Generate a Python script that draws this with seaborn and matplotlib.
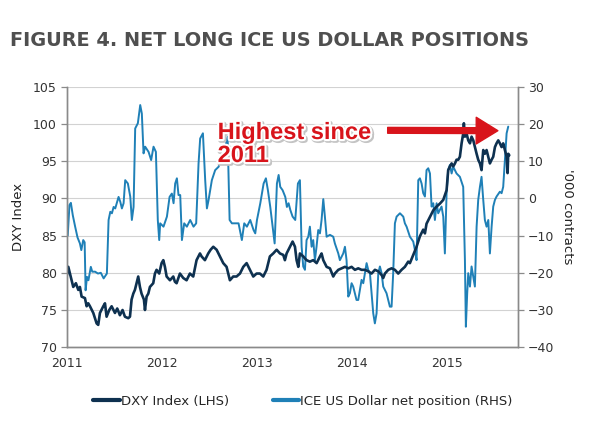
import matplotlib
matplotlib.use("Agg")
import matplotlib.pyplot as plt
import matplotlib.patheffects as pe
import seaborn as sns

# DXY index (left axis), decimal year / value
dxy_t = [2011.0, 2011.018, 2011.035, 2011.053, 2011.07, 2011.098, 2011.123, 2011.14, 2011.158, 2011.193,
         2011.211, 2011.228, 2011.246, 2011.281, 2011.316, 2011.333, 2011.351, 2011.386, 2011.404, 2011.421,
         2011.449, 2011.474, 2011.509, 2011.533, 2011.561, 2011.589, 2011.614, 2011.649, 2011.667, 2011.684,
         2011.702, 2011.719, 2011.737, 2011.754, 2011.772, 2011.789, 2011.814, 2011.825, 2011.842, 2011.86,
         2011.877, 2011.912, 2011.93, 2011.947, 2011.975, 2012.0, 2012.018, 2012.035, 2012.053, 2012.088,
         2012.123, 2012.14, 2012.158, 2012.193, 2012.228, 2012.263, 2012.298, 2012.333, 2012.368, 2012.404,
         2012.421, 2012.456, 2012.491, 2012.516, 2012.544, 2012.579, 2012.614, 2012.649, 2012.684, 2012.719,
         2012.754, 2012.789, 2012.825, 2012.86, 2012.895, 2012.93, 2012.965, 2013.0, 2013.035, 2013.07,
         2013.105, 2013.14, 2013.175, 2013.211, 2013.246, 2013.281, 2013.298, 2013.316, 2013.351, 2013.379,
         2013.404, 2013.421, 2013.439, 2013.456, 2013.491, 2013.526, 2013.561, 2013.596, 2013.632, 2013.667,
         2013.684, 2013.702, 2013.737, 2013.772, 2013.807, 2013.824, 2013.86, 2013.895, 2013.93, 2013.965,
         2014.0, 2014.035, 2014.07, 2014.105, 2014.14, 2014.175, 2014.21, 2014.246, 2014.281, 2014.316,
         2014.333, 2014.351, 2014.386, 2014.421, 2014.456, 2014.491, 2014.526, 2014.561, 2014.596, 2014.614,
         2014.649, 2014.684, 2014.719, 2014.754, 2014.772, 2014.789, 2014.825, 2014.86, 2014.895, 2014.93,
         2014.965, 2015.0, 2015.017, 2015.035, 2015.053, 2015.07, 2015.088, 2015.105, 2015.123, 2015.14,
         2015.158, 2015.175, 2015.182, 2015.193, 2015.211, 2015.228, 2015.246, 2015.263, 2015.281, 2015.298,
         2015.316, 2015.333, 2015.351, 2015.368, 2015.386, 2015.403, 2015.421, 2015.439, 2015.456, 2015.474,
         2015.491, 2015.509, 2015.526, 2015.544, 2015.561, 2015.579, 2015.596, 2015.614, 2015.632, 2015.642,
         2015.649, 2015.66]
dxy_v = [79.5, 80.8, 79.9, 79.0, 78.1, 78.6, 77.7, 78.1, 76.8, 76.6,
         75.5, 75.9, 75.5, 74.6, 73.2, 73.0, 74.6, 75.5, 75.9, 74.1,
         75.0, 75.5, 74.6, 75.2, 74.3, 75.0, 74.1, 73.9, 74.1, 76.4,
         77.2, 77.7, 78.6, 79.5, 78.1, 77.2, 76.4, 75.0, 76.8, 77.2,
         78.1, 78.6, 79.9, 80.4, 79.9, 81.3, 81.7, 80.8, 79.5, 79.0,
         79.5, 78.8, 78.6, 79.9, 79.3, 79.0, 79.9, 79.5, 81.7, 82.6,
         82.2, 81.7, 82.6, 83.1, 83.5, 83.1, 82.2, 81.3, 80.8, 79.0,
         79.5, 79.5, 79.9, 80.8, 81.3, 80.4, 79.5, 79.9, 79.9, 79.5,
         80.4, 82.2, 82.6, 83.1, 82.6, 82.4, 81.7, 82.6, 83.5, 84.2,
         83.5, 81.7, 80.8, 82.6, 82.2, 81.7, 81.5, 81.7, 81.3, 82.2,
         82.6, 81.7, 80.8, 80.6, 79.5, 79.9, 80.4, 80.6, 80.8, 80.6,
         80.8, 80.4, 80.6, 80.4, 80.4, 80.2, 79.9, 80.4, 80.2, 79.7,
         79.3, 79.9, 80.4, 80.6, 80.4, 79.9, 80.4, 80.8, 81.5, 81.3,
         82.4, 83.5, 84.9, 85.8, 85.3, 86.6, 87.5, 88.4, 88.9, 89.3,
         89.8, 91.1, 93.8, 94.3, 94.7, 94.3, 94.7, 95.2, 95.2, 95.6,
         97.4, 98.7, 100.1, 98.3, 98.7, 97.8, 97.4, 98.3, 97.8, 96.9,
         96.0, 95.2, 94.7, 93.8, 96.5, 96.0, 96.5, 95.6, 94.7, 95.2,
         95.6, 96.9, 97.4, 97.8, 97.4, 96.9, 97.4, 96.5, 95.6, 93.4,
         96.0, 95.8]

# ICE US Dollar net position ('000 contracts, right axis)
ice_t = [2011.0, 2011.012, 2011.03, 2011.045, 2011.065, 2011.09, 2011.115, 2011.14, 2011.155, 2011.175,
         2011.19, 2011.2, 2011.215, 2011.23, 2011.255, 2011.27, 2011.3, 2011.33, 2011.36, 2011.39,
         2011.424, 2011.442, 2011.46, 2011.477, 2011.495, 2011.512, 2011.547, 2011.565, 2011.582, 2011.6,
         2011.617, 2011.645, 2011.67, 2011.687, 2011.705, 2011.722, 2011.75, 2011.775, 2011.792, 2011.81,
         2011.827, 2011.863, 2011.89, 2011.915, 2011.94, 2011.96, 2011.975, 2011.985, 2012.02, 2012.056,
         2012.084, 2012.108, 2012.126, 2012.143, 2012.161, 2012.178, 2012.196, 2012.214, 2012.238, 2012.266,
         2012.301, 2012.336, 2012.364, 2012.389, 2012.406, 2012.435, 2012.459, 2012.477, 2012.494, 2012.529,
         2012.564, 2012.6, 2012.635, 2012.67, 2012.695, 2012.716, 2012.74, 2012.775, 2012.81, 2012.845,
         2012.87, 2012.898, 2012.933, 2012.968, 2012.986, 2013.004, 2013.039, 2013.074, 2013.098, 2013.119,
         2013.144, 2013.169, 2013.19, 2013.214, 2013.232, 2013.249, 2013.274, 2013.302, 2013.319, 2013.337,
         2013.355, 2013.379, 2013.407, 2013.435, 2013.456, 2013.474, 2013.491, 2013.509, 2013.526, 2013.544,
         2013.561, 2013.579, 2013.596, 2013.614, 2013.631, 2013.649, 2013.667, 2013.684, 2013.702, 2013.719,
         2013.737, 2013.772, 2013.807, 2013.824, 2013.86, 2013.877, 2013.912, 2013.93, 2013.947, 2013.965,
         2013.982, 2014.0, 2014.017, 2014.052, 2014.07, 2014.088, 2014.105, 2014.123, 2014.14, 2014.158,
         2014.175, 2014.193, 2014.21, 2014.228, 2014.245, 2014.263, 2014.281, 2014.298, 2014.316, 2014.333,
         2014.368, 2014.386, 2014.403, 2014.421, 2014.438, 2014.456, 2014.474, 2014.509, 2014.544, 2014.561,
         2014.579, 2014.614, 2014.649, 2014.667, 2014.684, 2014.702, 2014.719, 2014.737, 2014.754, 2014.772,
         2014.789, 2014.807, 2014.825, 2014.842, 2014.86, 2014.877, 2014.895, 2014.912, 2014.947, 2014.965,
         2014.982, 2015.0, 2015.017, 2015.035, 2015.053, 2015.07, 2015.105, 2015.14, 2015.175, 2015.193,
         2015.203, 2015.217, 2015.228, 2015.246, 2015.263, 2015.281, 2015.298, 2015.316, 2015.333, 2015.351,
         2015.368, 2015.386, 2015.403, 2015.421, 2015.439, 2015.456, 2015.474, 2015.491, 2015.509, 2015.526,
         2015.561, 2015.579, 2015.596, 2015.614, 2015.632, 2015.649]
ice_v = [-1.5, -10.0, -1.8, -1.2, -4.5, -7.6, -10.5, -12.1, -13.9, -11.2,
         -11.8, -24.7, -21.1, -22.0, -18.4, -19.7, -19.7, -20.2, -20.0, -21.5,
         -20.2, -5.8, -3.6, -4.0, -2.3, -2.7, 0.4, -0.9, -2.7, -1.3,
         4.9, 4.0, 0.5, -5.8, -2.3, 18.8, 20.2, 25.1, 22.8, 12.1,
         13.9, 12.5, 10.3, 13.9, 12.5, -5.8, -11.2, -6.7, -7.6, -4.9,
         0.4, 1.3, -1.3, 4.0, 5.4, 0.9, 0.9, -11.2, -6.7, -7.6,
         -5.8, -7.6, -6.7, 9.4, 16.1, 17.5, 4.9, -2.7, -0.5, 4.9,
         7.6, 8.5, 11.2, 13.9, 16.6, -5.8, -6.7, -6.7, -6.7, -11.2,
         -6.7, -7.6, -5.8, -8.5, -9.4, -5.8, -1.3, 4.0, 5.4, 2.2,
         -2.3, -7.6, -12.1, 4.0, 6.3, 3.1, 2.2, 0.4, -2.3, -1.3,
         -3.1, -4.9, -5.8, 4.0, 4.9, -13.0, -18.3, -19.2, -11.2, -10.3,
         -7.6, -13.0, -11.2, -16.6, -13.0, -8.5, -9.4, -5.8, -0.2, -4.9,
         -10.3, -9.8, -10.3, -12.1, -14.8, -16.6, -14.8, -13.0, -16.6, -26.4,
         -25.5, -22.8, -23.7, -27.3, -27.3, -24.6, -21.9, -22.8, -20.1, -17.4,
         -19.2, -20.1, -25.5, -30.9, -33.6, -30.9, -20.1, -18.3, -20.1, -23.7,
         -25.5, -27.3, -29.1, -29.1, -20.1, -6.7, -4.9, -4.0, -4.9, -6.7,
         -7.6, -10.3, -11.6, -13.9, -16.6, 4.9, 5.4, 4.0, 1.4, 0.5,
         7.6, 8.1, 6.7, -2.2, -1.3, -5.8, -1.3, -4.0, -2.2, -4.9,
         -14.8, 1.4, 7.6, 9.0, 6.7, 8.5, 6.7, 5.8, 3.1, -16.6,
         -34.5, -25.5, -20.1, -23.7, -18.3, -21.0, -23.7, -7.6, -0.4, 3.1,
         5.8, -0.4, -5.8, -7.6, -5.8, -14.8, -7.6, -2.2, -0.4, 0.5,
         1.8, 1.4, 3.1, 10.3, 17.5, 19.3]

year_ticks = [2011, 2012, 2013, 2014, 2015]
dxy_ticks = [70, 75, 80, 85, 90, 95, 100, 105]
ice_ticks = [-40, -30, -20, -10, 0, 10, 20, 30]

dxy_color = "#0e3150"
ice_color = "#1f80b7"
red = "#d8141b"
axis_gray = "#8a8a8a"
text_gray = "#333333"

sns.set_theme(style="white")
plt.rcParams["font.family"] = ["DejaVu Sans"]

fig = plt.figure(figsize=(6, 4.34), dpi=100)
ax = fig.add_axes([0.111, 0.2, 0.753, 0.6])
ax2 = ax.twinx()

sns.lineplot(x=ice_t, y=ice_v, ax=ax2, color=ice_color, linewidth=1.4,
             estimator=None, label="ICE US Dollar net position (RHS)", legend=False)
sns.lineplot(x=dxy_t, y=dxy_v, ax=ax, color=dxy_color, linewidth=1.9,
             estimator=None, label="DXY Index (LHS)", legend=False)

# DXY on top, grid lives on the back axis
ax.set_zorder(2)
ax2.set_zorder(1)
ax.patch.set_visible(False)
ax2.set_axisbelow(True)
ax2.yaxis.grid(True, color="#d2d2d2", linewidth=0.8)
ax.grid(False)
ax2.xaxis.grid(False)

ax.set_xlim(2011.0, 2015.756)
ax.set_ylim(70, 105)
ax2.set_ylim(-40, 30)
ax.set_xticks(year_ticks)
ax.set_xticklabels([str(y) for y in year_ticks])
ax.set_yticks(dxy_ticks)
ax2.set_yticks(ice_ticks)

for a in (ax, ax2):
    a.spines["top"].set_visible(False)
    for s in ("left", "right", "bottom"):
        a.spines[s].set_color(axis_gray)
        a.spines[s].set_linewidth(1.0)
    a.tick_params(axis="both", direction="out", length=4, width=0.9, color=axis_gray,
                  labelsize=9, labelcolor=text_gray, pad=3)

ax.set_xlabel("")
ax.set_ylabel("DXY Index", fontsize=9.5, color="#222222", labelpad=6)
ax2.set_ylabel("'000 contracts", fontsize=9.5, color="#222222", rotation=270, labelpad=14)

fig.text(0.017, 0.907, "FIGURE 4. NET LONG ICE US DOLLAR POSITIONS", fontsize=13.9,
         fontweight="bold", color="#4f4f4f", va="center", ha="left")

ann = ax.text(2012.59, 100.4, "Highest since\n2011", color=red, fontsize=17, fontweight="bold",
              family=["Liberation Sans", "DejaVu Sans"], va="top", ha="left", linespacing=1.0, zorder=5)
ann.set_path_effects([pe.Stroke(linewidth=3.5, foreground="#c4c4c4", offset=(1.0, -1.0)),
                      pe.Stroke(linewidth=3, foreground="white"), pe.Normal()])

ax.annotate("", xy=(2015.54, 99.1), xytext=(2014.38, 99.15),
            arrowprops=dict(arrowstyle="simple,head_length=1.3,head_width=1.6,tail_width=0.35",
                            color=red, shrinkA=0, shrinkB=0), zorder=5)

h1, l1 = ax.get_legend_handles_labels()
h2, l2 = ax2.get_legend_handles_labels()
leg = fig.legend(h1 + h2, l1 + l2, loc="center", bbox_to_anchor=(0.505, 0.076), ncol=2,
                 frameon=False, fontsize=9.5, handlelength=2.0, handletextpad=0.1,
                 columnspacing=3.3)
for line in leg.get_lines():
    line.set_linewidth(3)

fig.savefig("out.png", dpi=100)
